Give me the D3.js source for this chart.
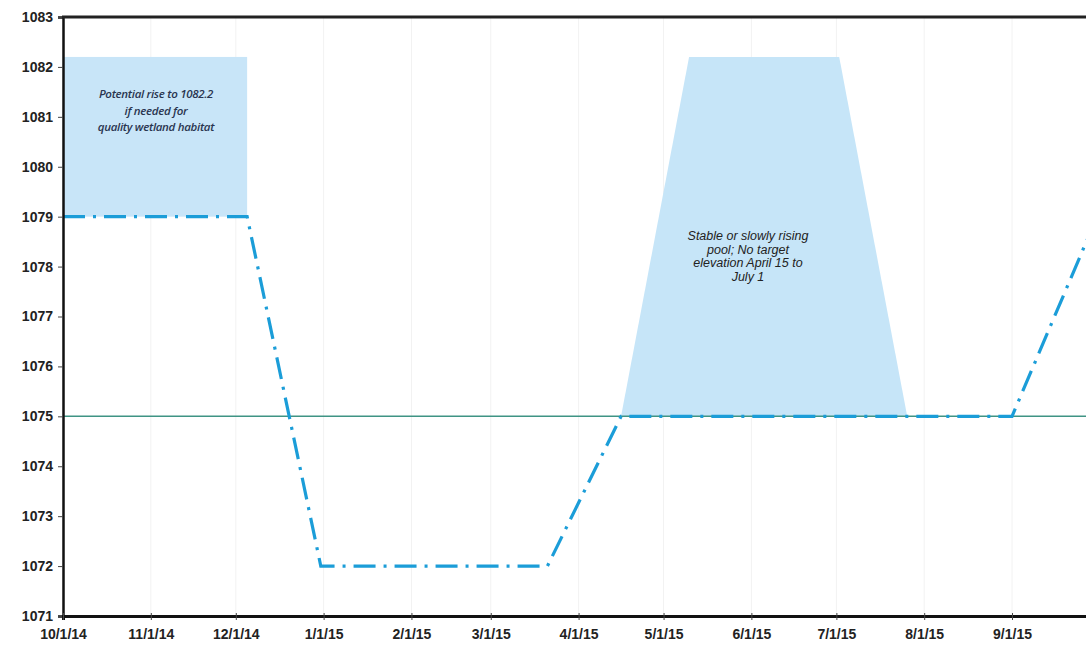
<!DOCTYPE html>
<html><head><meta charset="utf-8">
<script src="https://cdn.jsdelivr.net/npm/d3@7"></script>
<style>
html,body{margin:0;padding:0;background:#fff;overflow:hidden}
svg{display:block}
</style></head>
<body>
<svg id="chart" width="1086" height="647"></svg>
<script>
// ---- data ----
const tickDates = ["2014-10-01","2014-11-01","2014-12-01","2015-01-01","2015-02-01","2015-03-01","2015-04-01","2015-05-01","2015-06-01","2015-07-01","2015-08-01","2015-09-01"];
const tickLabels = ["10/1/14","11/1/14","12/1/14","1/1/15","2/1/15","3/1/15","4/1/15","5/1/15","6/1/15","7/1/15","8/1/15","9/1/15"];
const yTicks = [1071,1072,1073,1074,1075,1076,1077,1078,1079,1080,1081,1082,1083];
const levelDates = ["2014-10-01","2014-12-05","2014-12-31","2015-03-21","2015-04-16","2015-09-01","2015-10-01"];
const levelValues = [1079,1079,1072,1072,1075,1075,1079];
const referenceLevel = 1075;
const wetlandDates = ["2014-10-01","2014-12-05"];
const wetlandRange = [1079,1082.2];
const poolDates = ["2015-04-16","2015-05-10","2015-07-02","2015-07-26"];
const poolValues = [1075,1082.2,1082.2,1075];
const note1 = ["Potential rise to 1082.2","if needed for","quality wetland habitat"];
const note2 = ["Stable or slowly rising","pool; No target","elevation April 15 to","July 1"];

const parse = d3.timeParse("%Y-%m-%d");
const svg = d3.select("#chart");
const x = d3.scaleTime().domain([parse("2014-10-01"), parse("2015-10-01")]).range([63, 1097]);
const y = d3.scaleLinear().domain([1071,1083]).range([616,17]);

// gridlines
svg.append("g").selectAll("line").data(tickDates.slice(1)).join("line")
  .attr("x1", d=>x(parse(d))).attr("x2", d=>x(parse(d)))
  .attr("y1", y(1083)).attr("y2", y(1071))
  .attr("stroke", "#f2f2f2").attr("stroke-width", 1);

// wetland shading
svg.append("rect")
  .attr("x", x(parse(wetlandDates[0]))).attr("width", x(parse(wetlandDates[1])) - x(parse(wetlandDates[0])))
  .attr("y", y(wetlandRange[1])).attr("height", y(wetlandRange[0]) - y(wetlandRange[1]))
  .attr("fill", "#c8e5f8");

// pool trapezoid
const area = d3.line().x((d,i)=>x(parse(poolDates[i]))).y((d)=>y(d));
svg.append("path").attr("d", area(poolValues) + "Z").attr("fill", "#c6e5f8");

// reference line
svg.append("line").attr("x1", 63).attr("x2", 1086).attr("y1", y(referenceLevel)).attr("y2", y(referenceLevel))
  .attr("stroke", "#3f9484").attr("stroke-width", 1.5);

// level line
const line = d3.line().x((d,i)=>x(parse(levelDates[i]))).y(d=>y(d));
svg.append("path").attr("d", line(levelValues)).attr("fill","none")
  .attr("stroke", "#1b9dd8").attr("stroke-width", 3.2)
  .attr("stroke-dasharray", "22,8,3,8");

// axes
const yAxis = d3.axisLeft(y).tickValues(yTicks).tickFormat(d3.format("d")).tickSize(5);
const gy = svg.append("g").attr("transform", "translate(63,0)").call(yAxis);
gy.select(".domain").attr("stroke-width", 2.5).attr("stroke", "#111");
gy.selectAll(".tick line").attr("stroke", "#444");
gy.selectAll("text").attr("font-family", "Liberation Sans, Arial, sans-serif").attr("font-size", 14).attr("font-weight", "bold").attr("fill", "#222").attr("x", -10);

const xAxis = d3.axisBottom(x).tickValues(tickDates.map(parse)).tickFormat((d,i)=>tickLabels[i]).tickSize(4);
const gx = svg.append("g").attr("transform", "translate(0,616)").call(xAxis);
gx.select(".domain").attr("stroke-width", 3).attr("stroke", "#111");
gx.selectAll(".tick line").attr("stroke", "#444").attr("y1", -3);
gx.selectAll("text").attr("font-family", "Liberation Sans, Arial, sans-serif").attr("font-size", 14).attr("font-weight", "bold").attr("fill", "#222").attr("y", 13);

// top border
svg.append("line").attr("x1", 62).attr("x2", 1086).attr("y1", 17).attr("y2", 17).attr("stroke", "#222").attr("stroke-width", 3);

// notes
svg.append("text").attr("text-anchor","middle").attr("font-family","Open Sans, sans-serif").attr("font-style","italic").attr("font-weight","600")
  .attr("font-size", 11.5).attr("fill","#2a3550").attr("letter-spacing", -0.3)
  .selectAll("tspan").data(note1).join("tspan").attr("x", 156).attr("y",(d,i)=>98 + i*16.5).text(d=>d);
svg.append("text").attr("text-anchor","middle").attr("font-family","Liberation Sans, Arial, sans-serif").attr("font-style","italic")
  .attr("font-size", 12.5).attr("fill","#222")
  .selectAll("tspan").data(note2).join("tspan").attr("x", 748).attr("y",(d,i)=>240 + i*13.5).text(d=>d);
</script>
</body></html>
